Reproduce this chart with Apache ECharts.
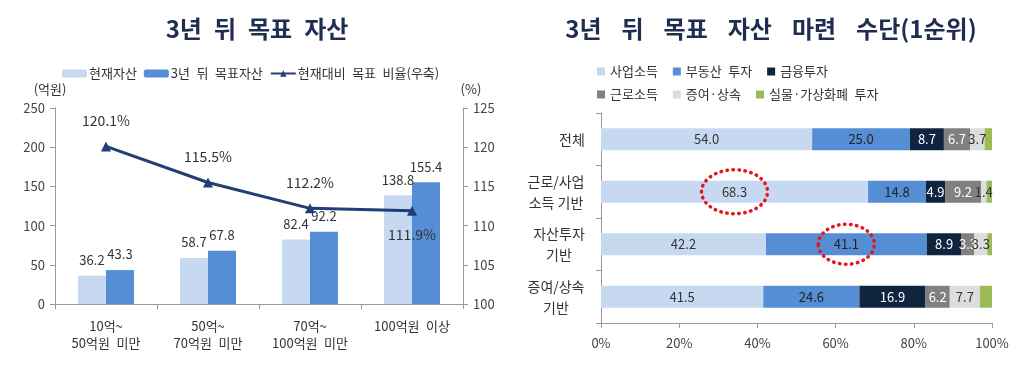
<!DOCTYPE html>
<html><head><meta charset="utf-8">
<script src="https://cdn.jsdelivr.net/npm/echarts@6/dist/echarts.min.js"></script>
<style>html,body{margin:0;padding:0;background:#fff}#c{width:1023px;height:366px}</style>
</head><body><div id="c"></div>
<script>
// Left chart data
const leftCategories = ['10억~\n50억원 미만', '50억~\n70억원 미만', '70억~\n100억원 미만', '100억원 이상'];
const currentAssets = [36.2, 58.7, 82.4, 138.8];
const targetAssets = [43.3, 67.8, 92.2, 155.4];
const targetRatio = [120.1, 115.5, 112.2, 111.9];
const leftTicks = [0, 50, 100, 150, 200, 250];
const rightTicks = [100, 105, 110, 115, 120, 125];

// Right chart data
const rightCategories = ['전체', '근로/사업\n소득 기반', '자산투자\n기반', '증여/상속\n기반'];
const bizIncome = [54.0, 68.3, 42.2, 41.5];
const realEstate = [25.0, 14.8, 41.1, 24.6];
const financial = [8.7, 4.9, 8.9, 16.9];
const laborIncome = [6.7, 9.2, 3.3, 6.2];
const giftInherit = [3.7, 1.4, 3.3, 7.7];
const physicalCrypto = [1.9, 1.4, 1.2, 3.1];
const highlighted = [[1, 0], [2, 1]]; // [row, series index] circled in the reference

const FONT = '"Noto Sans CJK KR", "Noto Sans", sans-serif';
const EN = '\u2002';
const wide = s => s.split(' ').join(EN);
const wider = s => s.split(' ').join(EN + '\u2004');
const chart = echarts.init(document.getElementById('c'));

// measure category label lines so multi-line labels are centred within their own block
const ctx = document.createElement('canvas').getContext('2d');
ctx.font = '14px ' + FONT;
const richY = {};
rightCategories.forEach((c, i) => {
  const w = Math.max(...c.split('\n').map(l => ctx.measureText(l).width));
  richY['a' + i] = { fontSize: 14, color: '#333', width: Math.ceil(w), align: 'center', lineHeight: 21, fontFamily: FONT };
});

const stackDefs = [
  { name: '사업소득', data: bizIncome, color: '#C6D9F1', label: '#333' },
  { name: '부동산 투자', data: realEstate, color: '#558ED5', label: '#222' },
  { name: '금융투자', data: financial, color: '#10243F', label: '#fff' },
  { name: '근로소득', data: laborIncome, color: '#808080', label: '#fff' },
  { name: '증여·상속', data: giftInherit, color: '#DDDDDD', label: '#333' },
  { name: '실물·가상화폐 투자', data: physicalCrypto, color: '#9BBB59', label: null }
];

const stackSeries = stackDefs.map(d => ({
  type: 'bar', name: d.name, stack: 'total', xAxisIndex: 1, yAxisIndex: 2,
  data: d.data, barWidth: 22,
  itemStyle: { color: d.color },
  label: d.label ? {
    show: true, position: 'inside', color: d.label, fontSize: 13, fontFamily: FONT,
    formatter: p => p.value.toFixed(1)
  } : { show: false }
}));

const titleStyle = { fontSize: 24, fontWeight: 'bold', color: '#1F2D50', fontFamily: FONT };
const option = {
  animation: false,
  textStyle: { fontFamily: FONT },
  title: [
    { text: wide('3년 뒤 목표 자산'), left: 252, top: 12, textAlign: 'center', textStyle: titleStyle },
    { text: wider('3년 뒤 목표 자산 마련 수단(1순위)'), left: 766, top: 12, textAlign: 'center', textStyle: titleStyle }
  ],
  legend: [
    { left: 57, top: 62, itemWidth: 25, itemHeight: 8, itemGap: 7, formatter: wide,
      textStyle: { fontSize: 13, color: '#333', fontFamily: FONT, padding: [0, 0, 0, -3] },
      data: ['현재자산', '3년 뒤 목표자산', '현재대비 목표 비율(우축)'] },
    { left: 592, top: 60, itemWidth: 8, itemHeight: 8, itemGap: 15, icon: 'rect', formatter: wide,
      textStyle: { fontSize: 13, color: '#333', fontFamily: FONT, width: 115 },
      data: ['사업소득', '부동산 투자', '금융투자'] },
    { left: 592, top: 83, itemWidth: 8, itemHeight: 8, itemGap: 15, icon: 'rect', formatter: wide,
      textStyle: { fontSize: 13, color: '#333', fontFamily: FONT, width: 115 },
      data: ['근로소득', '증여·상속', '실물·가상화폐 투자'] }
  ],
  grid: [
    { left: 55, right: 560, top: 108, bottom: 62 },
    { left: 601, right: 31, top: 113, bottom: 43 }
  ],
  xAxis: [
    { type: 'category', gridIndex: 0, data: leftCategories,
      axisLine: { lineStyle: { color: '#999' } },
      axisTick: { show: true, length: 5, lineStyle: { color: '#999' } },
      axisLabel: { fontSize: 13, color: '#333', lineHeight: 17, margin: 14, fontFamily: FONT, formatter: wide } },
    { type: 'value', gridIndex: 1, min: 0, max: 100, interval: 20,
      axisLine: { show: true, lineStyle: { color: '#999' } },
      axisTick: { show: true, length: 5, lineStyle: { color: '#999' } },
      splitLine: { show: false },
      axisLabel: { fontSize: 13, color: '#444', margin: 14, formatter: '{value}%', fontFamily: FONT } }
  ],
  yAxis: [
    { type: 'value', gridIndex: 0, min: 0, max: 250, interval: 50, name: '(억원)',
      nameLocation: 'end', nameGap: 12, nameTextStyle: { fontSize: 13, color: '#333', align: 'center', padding: [0, 0, 0, -10] },
      axisLine: { show: true, lineStyle: { color: '#999' } },
      axisTick: { show: true, length: 5, lineStyle: { color: '#999' } },
      splitLine: { show: false },
      axisLabel: { fontSize: 13, color: '#444', margin: 10, fontFamily: FONT } },
    { type: 'value', gridIndex: 0, position: 'right', min: 100, max: 125, interval: 5, name: '(%)',
      nameLocation: 'end', nameGap: 12, nameTextStyle: { fontSize: 13, color: '#333', align: 'center', padding: [0, 0, 0, 16] },
      axisLine: { show: true, lineStyle: { color: '#999' } },
      axisTick: { show: true, length: 5, lineStyle: { color: '#999' } },
      splitLine: { show: false },
      axisLabel: { fontSize: 13, color: '#444', margin: 10, fontFamily: FONT } },
    { type: 'category', gridIndex: 1, inverse: true, data: rightCategories,
      axisLine: { show: true, lineStyle: { color: '#999' } },
      axisTick: { show: true, length: 5, lineStyle: { color: '#999' } },
      axisLabel: { margin: 16, fontFamily: FONT,
        formatter: (v, i) => v.split('\n').map(l => '{a' + i + '|' + l + '}').join('\n'),
        rich: richY } }
  ],
  series: [
    { type: 'bar', name: '현재자산', xAxisIndex: 0, yAxisIndex: 0, data: currentAssets,
      barWidth: 28, barGap: '0%', itemStyle: { color: '#C6D9F1' },
      label: { show: true, position: 'top', fontSize: 13, color: '#333', distance: 9, formatter: p => p.value.toFixed(1) } },
    { type: 'bar', name: '3년 뒤 목표자산', xAxisIndex: 0, yAxisIndex: 0, data: targetAssets,
      barWidth: 28, barGap: '0%', itemStyle: { color: '#558ED5' },
      label: { show: true, position: 'top', fontSize: 13, color: '#333', distance: 9, formatter: p => p.value.toFixed(1) } },
    { type: 'line', name: '현재대비 목표 비율(우축)', xAxisIndex: 0, yAxisIndex: 1,
      data: targetRatio.map((v, i) => ({ value: v,
        label: { position: i === 3 ? 'bottom' : 'top', distance: i === 3 ? 12 : 14 } })),
      symbol: 'triangle', symbolSize: 10,
      lineStyle: { color: '#1F3F77', width: 3 }, itemStyle: { color: '#1F3F77' },
      label: { show: true, fontSize: 14, color: '#333', formatter: p => p.value.toFixed(1) + '%' } },
    ...stackSeries
  ]
};
chart.setOption(option);

// Red dotted ellipses around highlighted segments, positioned from the data through the axes
const ellipses = highlighted.map(([row, si]) => {
  let start = 0;
  for (let k = 0; k < si; k++) start += stackDefs[k].data[row];
  const mid = start + stackDefs[si].data[row] / 2;
  const p = chart.convertToPixel({ xAxisIndex: 1, yAxisIndex: 2 }, [mid, row]);
  return {
    type: 'ellipse', shape: { cx: p[0], cy: p[1], rx: si === 0 ? 33 : 28, ry: si === 0 ? 22 : 20 },
    style: { fill: 'none', stroke: '#E8141B', lineWidth: 3.5, lineDash: [0.5, 5.5], lineCap: 'round' },
    z: 100
  };
});
chart.setOption({ graphic: ellipses });
</script>
</body></html>
